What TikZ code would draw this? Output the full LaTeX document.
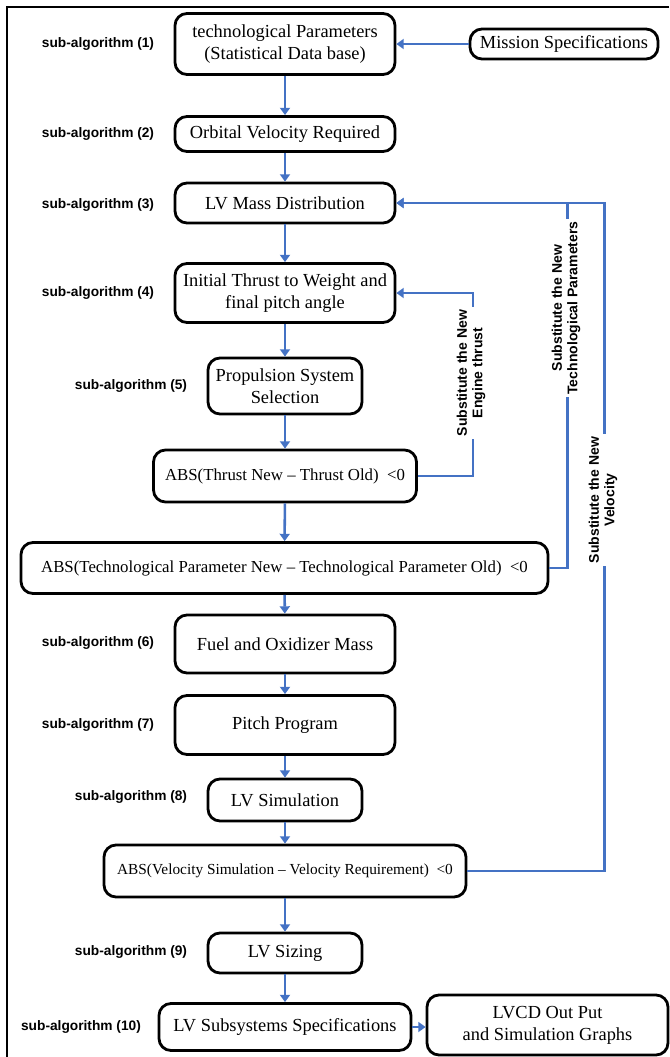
\documentclass[tikz,border=0pt]{standalone}
\usepackage{fontspec}
\setmainfont{Liberation Serif}
\setsansfont{Liberation Sans}
\usetikzlibrary{arrows.meta}
\definecolor{linkblue}{RGB}{68,114,196}
\newcommand{\px}{0.75pt}
\begin{document}
\begin{tikzpicture} [x=0.75pt, y=-0.75pt,
	stepbox/.style = {draw, line width=2.1pt, rounded corners=9pt, align=center, inner sep=2pt, font=\fontsize{13.8}{16.5}\selectfont},
	absbox/.style = {stepbox, font=\fontsize{12.6}{15}\selectfont},
	sublabel/.style = {font=\sffamily\bfseries\fontsize{10.3}{12}\selectfont},
	fblabel/.style = {font=\sffamily\bfseries\fontsize{10.5}{11.5}\selectfont, align=center, rotate=90, fill=white, inner sep=2pt},
	link/.style = {linkblue, line width=1.9pt, -{Triangle[length=5.5pt, width=7.5pt]}}]
	\useasboundingbox (0,0) rectangle (669,1057);
	\draw [line width=1.5pt] (669,7) -- (7,7) -- (7,1057);
	% main chain
	\node [stepbox, minimum width={220*\px}, minimum height={61*\px}] (tech) at (285,44) {technological Parameters\\(Statistical Data base)};
	\node [stepbox, minimum width={188*\px}, minimum height={30*\px}] (mission) at (564,44) {Mission Specifications};
	\node [stepbox, minimum width={220*\px}, minimum height={35*\px}] (orbit) at (285,134) {Orbital Velocity Required};
	\node [stepbox, minimum width={220*\px}, minimum height={40*\px}] (mass) at (285,203) {LV Mass Distribution};
	\node [stepbox, minimum width={220*\px}, minimum height={59*\px}] (thrust) at (285,293) {Initial Thrust to Weight and\\final pitch angle};
	\node [stepbox, minimum width={154*\px}, minimum height={56*\px}] (prop) at (285,386) {Propulsion System\\Selection};
	\node [absbox, minimum width={263*\px}, minimum height={52*\px}] (absthr) at (285,476) {ABS(Thrust New -- Thrust Old)~~<0};
	\node [absbox, minimum width={527*\px}, minimum height={51*\px}] (abstech) at (284.5,568) {ABS(Technological Parameter New -- Technological Parameter Old)~~<0};
	\node [stepbox, minimum width={220*\px}, minimum height={58*\px}] (fuel) at (285,644) {Fuel and Oxidizer Mass};
	\node [stepbox, minimum width={220*\px}, minimum height={59*\px}] (pitch) at (285,725) {Pitch Program};
	\node [stepbox, minimum width={154*\px}, minimum height={42*\px}] (vsim) at (285,800) {LV Simulation};
	\node [stepbox, font=\fontsize{11.5}{14}\selectfont, minimum width={362*\px}, minimum height={52*\px}] (absvel) at (285,871) {ABS(Velocity Simulation -- Velocity Requirement)~~<0};
	\node [stepbox, minimum width={154*\px}, minimum height={40*\px}] (sizing) at (285,953) {LV Sizing};
	\node [stepbox, minimum width={252*\px}, minimum height={47*\px}] (subsys) at (285,1027) {LV Subsystems Specifications};
	\node [stepbox, minimum width={241*\px}, minimum height={60*\px}] (lvcd) at (547.5,1025) {LVCD Out Put\\and Simulation Graphs};
	% sub-algorithm labels
	\node [sublabel] (sa1) at (98,44) {sub-algorithm (1)};
	\node [sublabel] (sa2) at (98,134) {sub-algorithm (2)};
	\node [sublabel] (sa3) at (98,205) {sub-algorithm (3)};
	\node [sublabel] (sa4) at (98,293) {sub-algorithm (4)};
	\node [sublabel] (sa5) at (131,386) {sub-algorithm (5)};
	\node [sublabel] (sa6) at (98,643) {sub-algorithm (6)};
	\node [sublabel] (sa7) at (98,725) {sub-algorithm (7)};
	\node [sublabel] (sa8) at (131,797) {sub-algorithm (8)};
	\node [sublabel] (sa9) at (131,952) {sub-algorithm (9)};
	\node [sublabel] (sa10) at (81,1027) {sub-algorithm (10)};
	% arrows
	\draw [link] (mission) -- (tech);
	\draw [link] (tech) -- (orbit);
	\draw [link] (orbit) -- (mass);
	\draw [link] (mass) -- (thrust);
	\draw [link] (thrust) -- (prop);
	\draw [link] (prop) -- (absthr);
	\draw [link] (absthr) -- (abstech);
	\draw [link] (abstech) -- (fuel);
	\draw [link] (fuel) -- (pitch);
	\draw [link] (pitch) -- (vsim);
	\draw [link] (vsim) -- (absvel);
	\draw [link] (absvel) -- (sizing);
	\draw [link] (sizing) -- (subsys);
	\draw [link] (subsys.east) -- (subsys.east -| lvcd.west);
	% feedback loops
	\draw [link] (absvel.east) -- ++(137,0) |- (mass.east);
	\draw [link] (abstech.east) -- ++(18,0) |- (mass.east);
	\draw [link] (absthr.east) -- ++(55,0) |- (thrust.east);
	\node [fblabel] (fbthr) at (471,373) {Substitute the New\\Engine thrust};
	\node [fblabel] (fbtech) at (566,308) {Substitute the New\\Technological Parameters};
	\node [fblabel] (fbvel) at (603,500) {Substitute the New\\Velocity};
\end{tikzpicture}
\end{document}
